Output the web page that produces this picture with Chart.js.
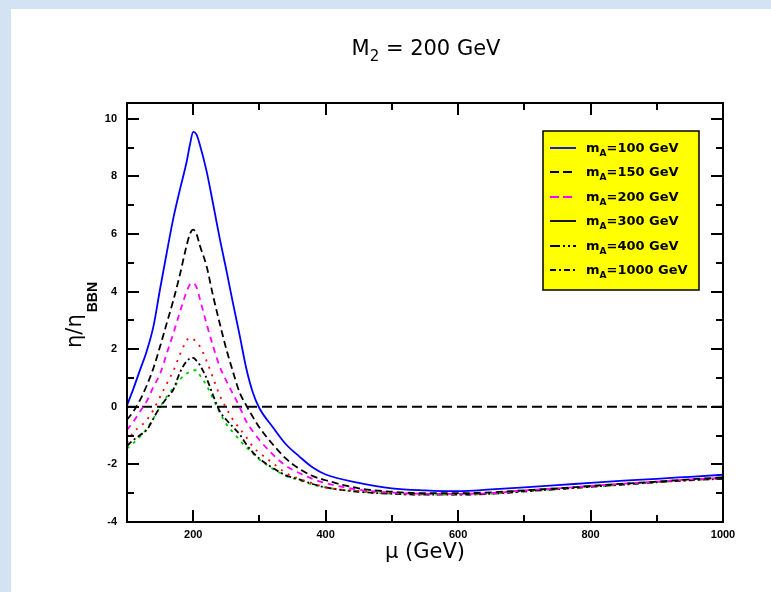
<!DOCTYPE html>
<html><head><meta charset="utf-8">
<script src="https://cdn.jsdelivr.net/npm/chart.js@4"></script>
<style>
html,body{margin:0;padding:0;width:771px;height:592px;overflow:hidden;background:#d4e3f4;}
#panel{position:absolute;left:11px;top:9px;width:760px;height:583px;background:#fff;}
#wrap{position:absolute;left:0;top:0;width:771px;height:592px;}
</style></head><body>
<div id="panel"></div>
<div id="wrap"><canvas id="c" width="771" height="592"></canvas></div>
<script>
const mu = [100,110,120,130,140,150,160,170,180,190,195,200,205,210,220,230,240,250,260,270,280,290,300,320,340,360,380,400,450,500,550,600,650,700,750,800,850,900,950,1000];
const mA100  = [0.05,0.65,1.3,1.95,2.8,4.1,5.35,6.55,7.55,8.5,9.1,9.55,9.45,9.1,8.2,7.05,5.85,4.75,3.6,2.5,1.35,0.5,-0.05,-0.7,-1.3,-1.72,-2.1,-2.35,-2.64,-2.83,-2.9,-2.93,-2.87,-2.8,-2.72,-2.64,-2.56,-2.5,-2.43,-2.36];
const mA150  = [-0.45,-0.15,0.25,0.75,1.35,2.1,2.9,3.7,4.6,5.6,6.0,6.15,6.0,5.6,4.9,3.85,2.9,2.0,1.22,0.5,0.05,-0.35,-0.72,-1.3,-1.8,-2.15,-2.4,-2.55,-2.83,-2.95,-3.0,-3.0,-2.97,-2.9,-2.83,-2.75,-2.67,-2.6,-2.52,-2.45];
const mA200  = [-0.8,-0.5,-0.15,0.2,0.7,1.15,1.85,2.55,3.3,4.0,4.25,4.3,4.15,3.75,2.9,2.1,1.4,0.9,0.45,0.0,-0.5,-0.85,-1.15,-1.65,-2.05,-2.3,-2.5,-2.65,-2.88,-2.98,-3.02,-3.02,-3.0,-2.9,-2.83,-2.75,-2.67,-2.6,-2.52,-2.47];
const mA300  = [-1.25,-0.87,-0.68,-0.45,-0.1,0.35,0.8,1.25,1.82,2.3,2.4,2.35,2.25,2.1,1.6,1.0,0.4,-0.05,-0.45,-0.75,-1.05,-1.38,-1.6,-1.95,-2.3,-2.5,-2.65,-2.8,-2.92,-3.0,-3.03,-3.03,-3.0,-2.92,-2.84,-2.76,-2.68,-2.61,-2.54,-2.48];
const mA400  = [-1.35,-1.15,-0.98,-0.8,-0.4,0.0,0.3,0.6,1.2,1.58,1.68,1.7,1.6,1.45,1.0,0.4,-0.15,-0.45,-0.7,-0.95,-1.3,-1.58,-1.8,-2.12,-2.38,-2.52,-2.68,-2.8,-2.95,-3.02,-3.05,-3.05,-3.02,-2.94,-2.86,-2.78,-2.7,-2.62,-2.55,-2.5];
const mA1000 = [-1.45,-1.25,-1.03,-0.75,-0.4,0.0,0.35,0.65,0.95,1.15,1.22,1.27,1.27,1.1,0.75,0.28,-0.2,-0.6,-0.88,-1.15,-1.4,-1.62,-1.83,-2.15,-2.4,-2.55,-2.7,-2.8,-2.95,-3.02,-3.05,-3.05,-3.02,-2.94,-2.86,-2.78,-2.7,-2.62,-2.55,-2.5];
const zeroMu = [100, 1000];
const zeroVal = [0, 0];
const xTicks = [200, 400, 600, 800, 1000];
const xMinor = [300, 500, 700, 900];
const yTicks = [-4, -2, 0, 2, 4, 6, 8, 10];
const yMinor = [-3, -1, 1, 3, 5, 7, 9];
const legendMasses = ['100', '150', '200', '300', '400', '1000'];
const xTitle = '\u03bc (GeV)';

const pts = (xs, ys) => xs.map((x, i) => ({x: x, y: ys[i]}));

const curveStyles = [
  {c:'#0000ff', d:[]},
  {c:'#000000', d:[7,4]},
  {c:'#ff00ff', d:[6,5]},
  {c:'#ff0000', d:[2,6]},
  {c:'#000000', d:[6,3,2,3]},
  {c:'#00cc00', d:[3,5]}
];
const legendStyles = [
  {c:'#0000ff', d:[]},
  {c:'#000000', d:[9,4]},
  {c:'#ff00ff', d:[9,4]},
  {c:'#000000', d:[]},
  {c:'#000000', d:[10,3,2,3,2,3]},
  {c:'#000000', d:[6,3,2,3]}
];
const series = [mA100, mA150, mA200, mA300, mA400, mA1000];

const datasets = series.map((s, i) => ({
  label: 'mA=' + legendMasses[i] + ' GeV',
  data: pts(mu, s),
  borderColor: curveStyles[i].c,
  borderDash: curveStyles[i].d,
  borderWidth: 1.8,
  pointRadius: 0,
  showLine: true,
  fill: false,
  cubicInterpolationMode: 'monotone'
}));
datasets.push({
  label: 'zero',
  data: pts(zeroMu, zeroVal),
  borderColor: '#000',
  borderDash: [10,5],
  borderWidth: 2,
  pointRadius: 0,
  showLine: true,
  fill: false
});

const framePlugin = {
  id: 'frame',
  afterDraw(chart) {
    const {ctx, chartArea: {left, right, top, bottom}, scales: {x, y}} = chart;
    ctx.save();
    ctx.strokeStyle = '#000';
    ctx.lineWidth = 2;
    ctx.setLineDash([]);
    ctx.strokeRect(left, top, right - left, bottom - top);
    ctx.beginPath();
    const tick = (vals, len) => {
      vals.forEach(v => {
        const px = Math.round(x.getPixelForValue(v));
        ctx.moveTo(px, bottom); ctx.lineTo(px, bottom - len);
        ctx.moveTo(px, top); ctx.lineTo(px, top + len);
      });
    };
    const ytick = (vals, len) => {
      vals.forEach(v => {
        const py = Math.round(y.getPixelForValue(v));
        ctx.moveTo(left, py); ctx.lineTo(left + len, py);
        ctx.moveTo(right, py); ctx.lineTo(right - len, py);
      });
    };
    tick(xTicks, 12); tick(xMinor, 7);
    ytick(yTicks, 12); ytick(yMinor, 7);
    ctx.stroke();

    // main title  M_2 = 200 GeV
    ctx.fillStyle = '#000';
    ctx.textBaseline = 'alphabetic';
    ctx.textAlign = 'left';
    ctx.font = '21px "DejaVu Sans"';
    const tA = 'M', tB = '2', tC = ' = 200 GeV';
    const wA = ctx.measureText(tA).width;
    const wC = ctx.measureText(tC).width;
    ctx.font = '15px "DejaVu Sans"';
    const wB = ctx.measureText(tB).width;
    let tx = 426 - (wA + wB + wC) / 2;
    ctx.font = '21px "DejaVu Sans"';
    ctx.fillText(tA, tx, 55); tx += wA;
    ctx.font = '15px "DejaVu Sans"';
    ctx.fillText(tB, tx, 61); tx += wB;
    ctx.font = '21px "DejaVu Sans"';
    ctx.fillText(tC, tx, 55);

    // y axis title  eta/eta_BBN
    ctx.save();
    ctx.translate(81, 348);
    ctx.rotate(-Math.PI / 2);
    ctx.fillStyle = '#000';
    ctx.textBaseline = 'alphabetic';
    ctx.textAlign = 'left';
    ctx.font = '21px "DejaVu Sans"';
    const main = '\u03b7/\u03b7';
    ctx.fillText(main, 0, 0);
    const w = ctx.measureText(main).width;
    ctx.font = 'bold 14px "Liberation Sans"';
    ctx.fillText('BBN', w + 2, 16);
    ctx.restore();

    // legend
    const bx = 543, by = 131, bw = 156, bh = 159;
    ctx.fillStyle = '#ffff00';
    ctx.fillRect(bx, by, bw, bh);
    ctx.lineWidth = 1.5;
    ctx.strokeStyle = '#000';
    ctx.strokeRect(bx, by, bw, bh);
    legendMasses.forEach((m, i) => {
      const yy = Math.round(148 + i * 24.4);
      ctx.beginPath();
      ctx.strokeStyle = legendStyles[i].c;
      ctx.setLineDash(legendStyles[i].d);
      ctx.lineWidth = 1.8;
      ctx.moveTo(550, yy); ctx.lineTo(576, yy);
      ctx.stroke();
      ctx.setLineDash([]);
      ctx.fillStyle = '#000';
      ctx.textAlign = 'left';
      ctx.textBaseline = 'alphabetic';
      ctx.font = 'bold 13px "DejaVu Sans"';
      let lx = 586;
      ctx.fillText('m', lx, yy + 4);
      lx += ctx.measureText('m').width;
      ctx.font = 'bold 9px "DejaVu Sans"';
      ctx.fillText('A', lx, yy + 8);
      lx += ctx.measureText('A').width;
      ctx.font = 'bold 13px "DejaVu Sans"';
      ctx.fillText('=' + m + ' GeV', lx, yy + 4);
    });
    ctx.restore();
  }
};

new Chart(document.getElementById('c'), {
  type: 'scatter',
  data: { datasets: datasets },
  options: {
    responsive: false,
    animation: false,
    layout: { padding: { left: 0, right: 48, top: 103, bottom: 0 } },
    plugins: {
      legend: { display: false },
      tooltip: { enabled: false },
      title: { display: false }
    },
    scales: {
      x: {
        type: 'linear', min: 100, max: 1000,
        grid: { display: false, drawTicks: false, tickLength: 0 },
        border: { display: false },
        afterBuildTicks: s => { s.ticks = xTicks.map(v => ({value: v})); },
        afterFit: s => { s.height = 70; },
        ticks: { color: '#000', padding: 6, maxRotation: 0, callback: v => String(v), font: { family: '"Liberation Sans"', size: 11, weight: 'bold' } },
        title: { display: true, text: xTitle, color: '#000', padding: { top: 0, bottom: 27 }, font: { family: '"DejaVu Sans"', size: 21, lineHeight: 1.2 } }
      },
      y: {
        type: 'linear', min: -4, max: 10.55,
        grid: { display: false, drawTicks: false, tickLength: 0 },
        border: { display: false },
        afterBuildTicks: s => { s.ticks = yTicks.map(v => ({value: v})); },
        afterFit: s => { s.width = 127; },
        ticks: { color: '#000', padding: 10, callback: v => String(v), font: { family: '"Liberation Sans"', size: 11, weight: 'bold' } }
      }
    }
  },
  plugins: [framePlugin]
});
</script>
</body></html>
